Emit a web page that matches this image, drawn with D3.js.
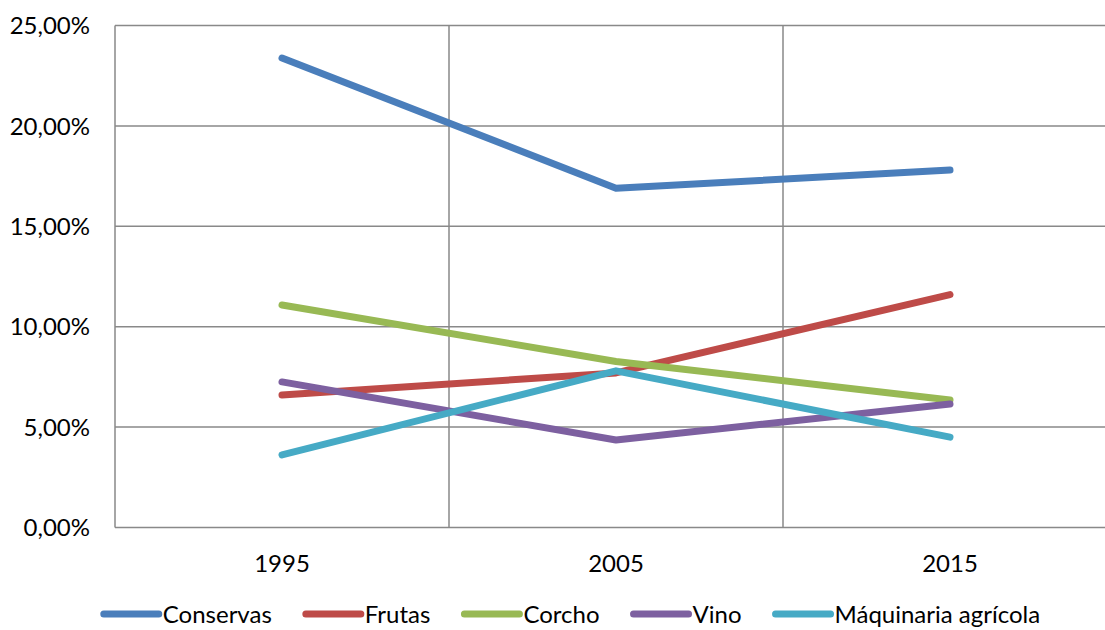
<!DOCTYPE html>
<html><head><meta charset="utf-8">
<script src="https://cdn.jsdelivr.net/npm/d3@7"></script>
<style>
html,body{margin:0;padding:0;background:#fff;overflow:hidden}
text{font-family:Lato,"Open Sans",sans-serif;fill:#000}
</style></head>
<body><svg id="c" width="1105" height="630"></svg>
<script>
const categories = ["1995","2005","2015"];
const seriesNames = ["Conservas","Frutas","Corcho","Vino","Máquinaria agrícola"];
const conservas = [23.38, 16.9, 17.8];
const frutas = [6.6, 7.7, 11.6];
const corcho = [11.08, 8.27, 6.35];
const vino = [7.25, 4.36, 6.15];
const maquinaria = [3.62, 7.8, 4.5];
const colors = ["#4A7EBB","#BE4B48","#98B954","#7D60A0","#46AAC5"];
const yTicks = [0,5,10,15,20,25];

const seriesValues = [conservas, frutas, corcho, vino, maquinaria];
const svg = d3.select("#c");
const pLeft = 115, pRight = 1117, pTop = 25.5, pBottom = 527.5;
const fs = 24;

const x = d3.scaleBand().domain(categories).range([pLeft, pRight]);
const y = d3.scaleLinear().domain([0,25]).range([pBottom, pTop]);

const grid = svg.append("g");
grid.selectAll("line.h").data(yTicks).join("line")
  .attr("x1", pLeft).attr("x2", pRight)
  .attr("y1", d => y(d)).attr("y2", d => y(d))
  .attr("stroke", "#898989").attr("stroke-width", 1.5);
grid.selectAll("line.v").data(categories).join("line")
  .attr("x1", d => x(d) + x.bandwidth()).attr("x2", d => x(d) + x.bandwidth())
  .attr("y1", pTop).attr("y2", pBottom)
  .attr("stroke", "#898989").attr("stroke-width", 1.5);
grid.append("line").attr("x1", pLeft).attr("x2", pLeft).attr("y1", pTop).attr("y2", pBottom)
  .attr("stroke", "#898989").attr("stroke-width", 1.5);

const fmt = v => v.toFixed(2).replace(".", ",") + "%";
svg.append("g").selectAll("text").data(yTicks).join("text")
  .attr("x", 90).attr("y", d => y(d)).attr("dy", "0.36em")
  .attr("text-anchor", "end").attr("font-size", fs).text(fmt);

svg.append("g").selectAll("text").data(categories).join("text")
  .attr("x", d => x(d) + x.bandwidth()/2).attr("y", 572)
  .attr("text-anchor", "middle").attr("font-size", fs).text(d => d);

const line = d3.line().x((d,i) => x(categories[i]) + x.bandwidth()/2).y(d => y(d));
svg.append("g").selectAll("path").data(seriesValues).join("path")
  .attr("d", d => line(d)).attr("fill", "none")
  .attr("stroke", (d,i) => colors[i]).attr("stroke-width", 7)
  .attr("stroke-linecap", "round").attr("stroke-linejoin", "round");

const lg = svg.append("g");
const items = lg.selectAll("g").data(seriesNames).join("g");
items.append("line").attr("x1", 0).attr("x2", 55).attr("y1", 0).attr("y2", 0)
  .attr("stroke", (d,i) => colors[i]).attr("stroke-width", 7).attr("stroke-linecap", "round");
items.append("text").attr("x", 59).attr("y", 0).attr("dy", "0.36em")
  .attr("font-size", fs).text(d => d);
let widths = [];
items.each(function(){ widths.push(59 + d3.select(this).select("text").node().getComputedTextLength()); });
const gap = 34;
const total = d3.sum(widths) + gap*(widths.length-1);
let cx = 572 - total/2;
items.each(function(d,i){ d3.select(this).attr("transform", `translate(${cx},614)`); cx += widths[i] + gap; });
</script></body></html>
